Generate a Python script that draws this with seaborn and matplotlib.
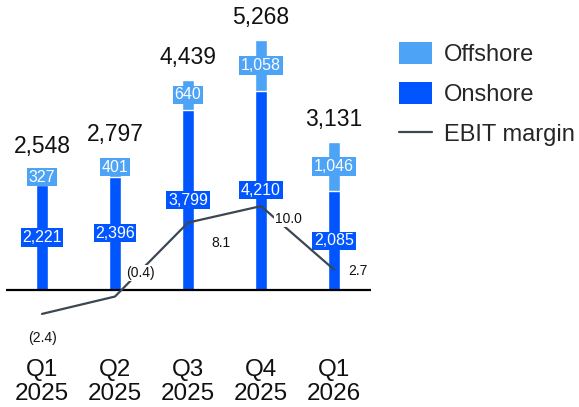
import matplotlib
matplotlib.use("Agg")
import matplotlib.pyplot as plt
from matplotlib.patches import Patch
from matplotlib.lines import Line2D
import numpy as np
import pandas as pd
import seaborn as sns

# Order intake by quarter (EUR m) and EBIT margin (%)
quarters = ["Q1\n2025", "Q2\n2025", "Q3\n2025", "Q4\n2025", "Q1\n2026"]
onshore = [2221, 2396, 3799, 4210, 2085]
offshore = [327, 401, 640, 1058, 1046]
totals = [2548, 2797, 4439, 5268, 3131]
ebit_margin = [-2.4, -0.4, 8.1, 10.0, 2.7]

ONSHORE_C = "#0055ff"
OFFSHORE_C = "#4da3f5"
LINE_C = "#3b4752"

sns.set_theme(style="white")
plt.rcParams["font.family"] = ["Liberation Sans", "DejaVu Sans"]

df = pd.DataFrame({"quarter": quarters, "onshore": onshore,
                   "offshore": offshore, "total": totals,
                   "ebit": ebit_margin})

fig = plt.figure(figsize=(5.79, 4.07), dpi=100)
ax = fig.add_axes([0.0095, 0.1646, 0.6304, 0.7862])

# Stacked bars: full height in offshore colour, onshore drawn over it
sns.barplot(data=df, x="quarter", y="total", color=OFFSHORE_C, width=0.165,
            saturation=1, ax=ax, zorder=2)
sns.barplot(data=df, x="quarter", y="onshore", color=ONSHORE_C, width=0.165,
            saturation=1, ax=ax, zorder=2)

ax.set_xlim(-0.5, 4.5)
ax.set_ylim(-1055, 5700)
ax.axhline(0, color="black", lw=1.6, zorder=3)
for s in ax.spines.values():
    s.set_visible(False)
ax.set_yticks([])
ax.set_xlabel("")
ax.set_ylabel("")
ax.tick_params(axis="x", length=0, pad=13.5, labelsize=17.5, colors="#111111")
ax.set_xticks(range(len(quarters)))
ax.set_xticklabels(quarters, linespacing=1.12)

seg_kw = dict(ha="center", va="center", color="white", fontsize=11.5, zorder=6)
for i in range(len(quarters)):
    ax.text(i, onshore[i] / 2, f"{onshore[i]:,}",
            bbox=dict(boxstyle="square,pad=0.1", fc=ONSHORE_C, ec="none"), **seg_kw)
    ax.text(i, onshore[i] + offshore[i] / 2, f"{offshore[i]:,}",
            bbox=dict(boxstyle="square,pad=0.1", fc=OFFSHORE_C, ec="none"), **seg_kw)
    ax.annotate(f"{totals[i]:,}", (i, totals[i]), xytext=(0, 8),
                textcoords="offset points", ha="center", va="bottom",
                fontsize=16.5, color="#111111")

# EBIT margin on a secondary axis
ax2 = ax.twinx()
ax2.set_ylim(-5.4, 31.4)
sns.lineplot(x=list(range(len(quarters))), y=ebit_margin, color=LINE_C,
             lw=1.6, ax=ax2, zorder=4)
ax2.set_yticks([])
ax2.set_ylabel("")
for s in ax2.spines.values():
    s.set_visible(False)
ax.set_zorder(1)
ax2.set_zorder(2)
ax2.patch.set_visible(False)

offsets = [(0, -17), (18, 17), (24, -15), (20, -9), (17, -1)]
for i, v in enumerate(ebit_margin):
    txt = f"({abs(v):.1f})" if v < 0 else f"{v:.1f}"
    ax2.annotate(txt, (i, v), xytext=offsets[i], textcoords="offset points",
                 ha="center", va="center", fontsize=10, color="#111111",
                 bbox=dict(boxstyle="square,pad=0.1", fc="white", ec="none"),
                 zorder=5)

handles = [Patch(fc=OFFSHORE_C, ec="none", label="Offshore"),
           Patch(fc=ONSHORE_C, ec="none", label="Onshore"),
           Line2D([], [], color=LINE_C, lw=1.6, label="EBIT margin")]
fig.legend(handles=handles, loc="upper left", bbox_to_anchor=(0.689, 0.897),
           frameon=False, fontsize=17, handlelength=1.4, handleheight=1.05,
           handletextpad=0.5, labelspacing=0.68, borderaxespad=0,
           borderpad=0)

fig.savefig("out.png", dpi=100)
